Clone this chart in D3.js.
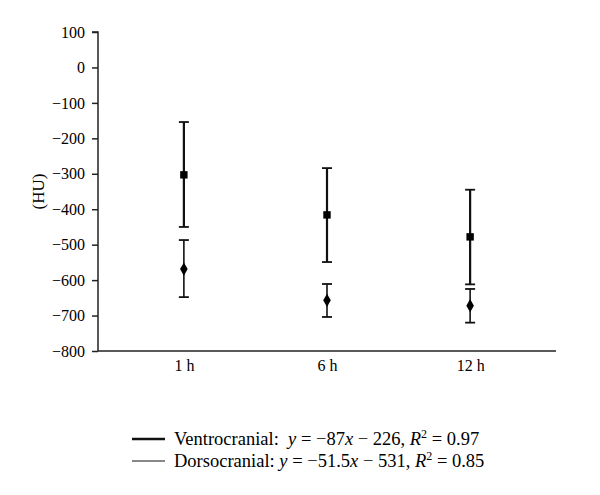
<!DOCTYPE html>
<html>
<head>
<meta charset="utf-8">
<script src="https://cdn.jsdelivr.net/npm/d3@7"></script>
<style>
body { margin: 0; background: #fff; }
svg text { font-family: "Liberation Serif", "DejaVu Serif", serif; fill: #000; }
</style>
</head>
<body>
<svg width="600" height="495"></svg>
<script>
var categories = ["1 h", "6 h", "12 h"];
var ventroMean = [-303, -416, -478];
var ventroLow = [-450, -549, -612];
var ventroHigh = [-154, -284, -345];
var dorsoMean = [-569, -657, -672];
var dorsoLow = [-648, -704, -720];
var dorsoHigh = [-487, -611, -625];
var yTicks = [100, 0, -100, -200, -300, -400, -500, -600, -700, -800];

var svg = d3.select("svg");
var x = d3.scalePoint().domain(categories).range([98, 556]).padding(0.6);
var y = d3.scaleLinear().domain([-800, 100]).range([351, 32]);

// y axis
var yAxis = svg.append("g")
	.attr("transform", "translate(98,0)")
	.call(d3.axisLeft(y).tickValues(yTicks).tickSize(6).tickPadding(7)
		.tickFormat(function(d){ return d < 0 ? "\u2212" + Math.abs(d) : d; }));
yAxis.selectAll("text").style("font-size", "16px");
yAxis.selectAll("line,path").attr("stroke", "#222").attr("stroke-width", 1.5);
yAxis.select(".domain").attr("d", "M-6," + y(100) + "H0V" + y(-800));

// x axis
var xAxis = svg.append("g")
	.attr("transform", "translate(0," + y(-800) + ")")
	.call(d3.axisBottom(x).tickSize(0).tickPadding(9));
xAxis.selectAll("text").style("font-size", "16px");
xAxis.select(".domain").attr("stroke", "#222").attr("stroke-width", 1.5)
	.attr("d", "M98,0H556");

svg.append("text")
	.attr("transform", "translate(44," + y(-350) + ") rotate(-90)")
	.attr("text-anchor", "middle")
	.style("font-size", "17px")
	.text("(HU)");

function drawSeries(mean, low, high, width, shape, size) {
	var g = svg.append("g");
	var cx = function(d, i){ return x(categories[i]); };
	g.selectAll(".bar").data(mean).enter().append("line")
		.attr("x1", cx).attr("x2", cx)
		.attr("y1", function(d, i){ return y(high[i]); })
		.attr("y2", function(d, i){ return y(low[i]); })
		.attr("stroke", "#111").attr("stroke-width", width);
	[high, low].forEach(function(arr){
		g.selectAll(null).data(arr).enter().append("line")
			.attr("x1", function(d, i){ return cx(d, i) - 5; })
			.attr("x2", function(d, i){ return cx(d, i) + 5; })
			.attr("y1", function(d){ return y(d); })
			.attr("y2", function(d){ return y(d); })
			.attr("stroke", "#111").attr("stroke-width", 1.8);
	});
	g.selectAll(".pt").data(mean).enter().append("path")
		.attr("d", d3.symbol().type(shape).size(size))
		.attr("transform", function(d, i){ return "translate(" + cx(d, i) + "," + y(d) + ")"; })
		.attr("fill", "#000");
}
drawSeries(ventroMean, ventroLow, ventroHigh, 2.2, d3.symbolSquare, 55);
drawSeries(dorsoMean, dorsoLow, dorsoHigh, 1.6, d3.symbolDiamond, 50);

// legend
var legend = [
	{w: 2.5, y: 439, parts: [["Ventrocranial:  ", ""], ["y", "i"], [" = \u221287", ""], ["x", "i"], [" \u2212 226, ", ""], ["R", "i"], ["2", "s"], [" = 0.97", ""]]},
	{w: 1, y: 461, parts: [["Dorsocranial: ", ""], ["y", "i"], [" = \u221251.5", ""], ["x", "i"], [" \u2212 531, ", ""], ["R", "i"], ["2", "s"], [" = 0.85", ""]]}
];
legend.forEach(function(l){
	svg.append("line").attr("x1", 132).attr("x2", 165).attr("y1", l.y).attr("y2", l.y)
		.attr("stroke", "#111").attr("stroke-width", l.w);
	var t = svg.append("text").attr("x", 174).attr("y", l.y + 6).style("font-size", "18.5px")
		.attr("xml:space", "preserve");
	l.parts.forEach(function(p){
		var ts = t.append("tspan").text(p[0]);
		if (p[1] == "i") ts.style("font-style", "italic");
		if (p[1] == "s") ts.attr("dy", -7).style("font-size", "12px");
		if (p[1] == "" && p[0].indexOf(" = 0") == 0) ts.attr("dy", 7);
	});
});
</script>
</body>
</html>
